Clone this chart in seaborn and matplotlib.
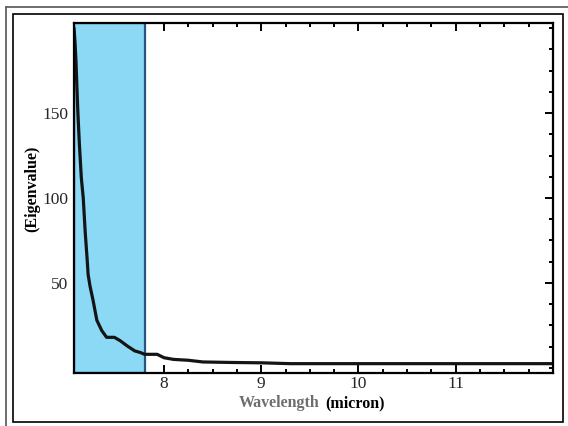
import matplotlib
matplotlib.use("Agg")
import matplotlib.pyplot as plt
from matplotlib.lines import Line2D
from matplotlib.patches import Rectangle
from matplotlib.ticker import MultipleLocator
import seaborn as sns
import pandas as pd

# eigenvalue spectrum
wavelength = [7.075, 7.085, 7.095, 7.105, 7.115, 7.13, 7.15, 7.17, 7.19, 7.21,
              7.22, 7.24, 7.27, 7.31, 7.36, 7.41, 7.49, 7.55, 7.62, 7.70,
              7.76, 7.80, 7.87, 7.93, 8.00, 8.10, 8.25, 8.40, 8.70, 9.00,
              9.30, 10.0, 11.0, 12.0]
eigenvalue = [200, 192, 181, 165, 150, 132, 112, 100, 80, 64,
              55, 48, 40, 28, 22, 18, 18, 16, 13, 10,
              9, 8, 8, 8, 6, 5, 4.5, 3.5, 3.2, 3.0,
              2.5, 2.5, 2.5, 2.5]
highlight = (7.075, 7.8)
x_ticks = [8, 9, 10, 11]
y_ticks = [50, 100, 150]

df = pd.DataFrame({"wavelength": wavelength, "eigenvalue": eigenvalue})

sns.set_style("ticks")
plt.rcParams["font.family"] = ["Liberation Serif", "DejaVu Serif"]

fig = plt.figure(figsize=(5.68, 4.26), dpi=100)
ax = fig.add_axes([0.1303, 0.1244, 0.8433, 0.8216])

# highlighted band
ax.axvspan(*highlight, facecolor="#8bd9f5", edgecolor="#24557f",
           linewidth=1.6, zorder=1)

sns.lineplot(data=df, x="wavelength", y="eigenvalue", ax=ax,
             color="#141414", linewidth=2.3, sort=False, zorder=3)

ax.set_xlim(7.075, 12.0)
ax.set_ylim(-3, 203)
ax.set_xticks(x_ticks)
ax.set_yticks(y_ticks)
ax.xaxis.set_minor_locator(MultipleLocator(0.25))
ax.yaxis.set_minor_locator(MultipleLocator(12.5))
ax.tick_params(which="both", direction="in", top=True, right=True,
               width=1.4, color="black", labelsize=12.5, pad=4)
ax.tick_params(axis="x", which="both", pad=2.5)
ax.tick_params(which="major", length=6)
ax.tick_params(which="minor", length=3)
for s in ax.spines.values():
    s.set_linewidth(1.6)
    s.set_color("black")
    s.set_zorder(4)

ax.set_xlabel("")
ax.set_ylabel("")
fig.text(0.562, 0.054, "Wavelength", ha="right", va="center",
         fontsize=11.5, fontweight="bold", color="#6e6e6e")
fig.text(0.572, 0.054, "(micron)", ha="left", va="center",
         fontsize=11.5, fontweight="bold", color="black")
fig.text(0.056, 0.556, "(Eigenvalue)", ha="center", va="center",
         rotation=90, fontsize=11.5, fontweight="bold", color="black")

# page frame
fig.patches.append(Rectangle((13 / 568, 4 / 426), 550 / 568, 408 / 426,
                             transform=fig.transFigure, fill=False,
                             edgecolor="black", linewidth=1.2))
fig.lines.append(Line2D([6 / 568, 6 / 568], [0, 419 / 426],
                        transform=fig.transFigure, color="#555555", lw=1.2))
fig.lines.append(Line2D([6 / 568, 1], [419 / 426, 419 / 426],
                        transform=fig.transFigure, color="#555555", lw=1.2))

fig.savefig("out.png", dpi=100)
